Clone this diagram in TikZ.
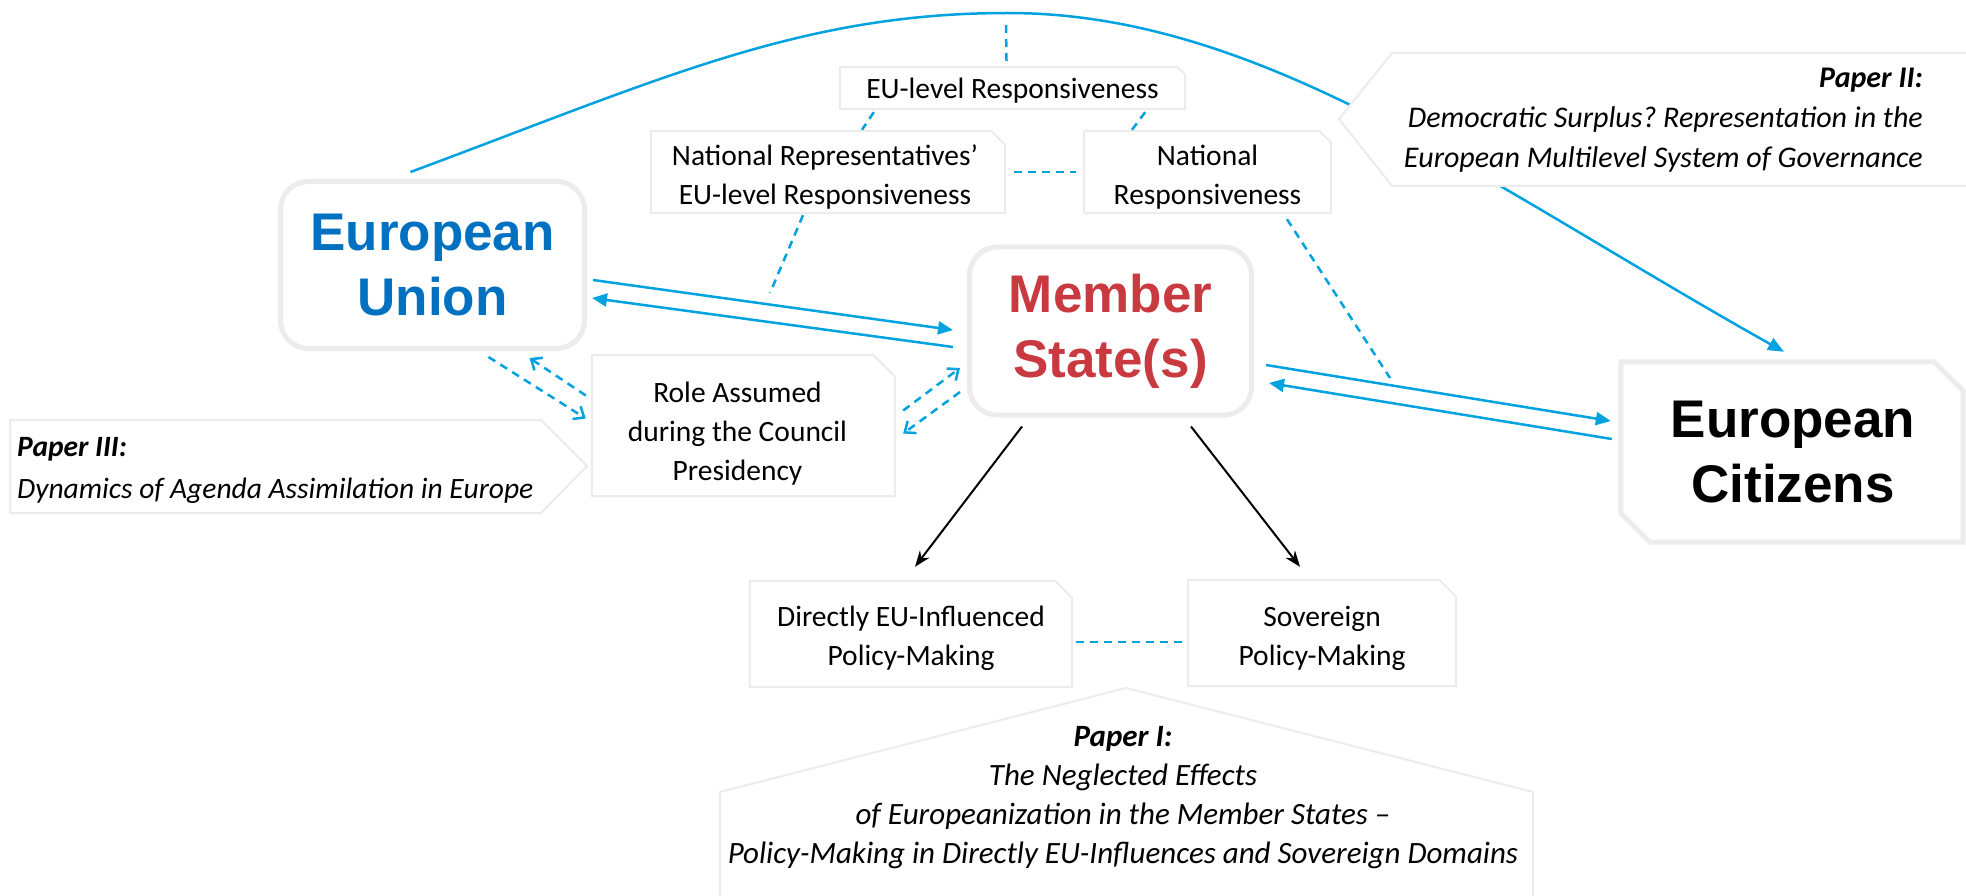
\documentclass[tikz,border=0pt]{standalone}
\usepackage{fontspec}
\setmainfont{Carlito}
\newfontfamily\arialfont{Liberation Sans}
\usetikzlibrary{arrows.meta,calc}
\definecolor{cblue}{RGB}{0,162,224}
\definecolor{eublue}{RGB}{0,112,192}
\definecolor{msred}{RGB}{200,58,64}
\definecolor{edgegray}{RGB}{236,236,236}
\pgfdeclarelayer{bg}
\pgfdeclarelayer{shp}
\pgfsetlayers{bg,shp,main}
\frenchspacing
\newcommand\snipbox[2]{\draw[smallshape] (#1.south west) -- (#1.north west) -- ($(#1.north east)+(-#2,0)$) -- ($(#1.north east)+(0,#2)$) -- (#1.south east) -- cycle;}
\begin{document}
\begin{tikzpicture}[x=1pt,y=-1pt,
  bigbox/.style={draw=edgegray, line width=5pt, fill=white, rounded corners=28pt, font=\arialfont\bfseries\fontsize{53}{65}\selectfont, align=center, inner sep=0pt},
  boxarea/.style={draw=none, inner sep=0pt},
  txt/.style={inner sep=0pt, align=center, font=\fontsize{29.5}{39}\selectfont},
  smallshape/.style={draw=edgegray, line width=2pt, fill=white},
  calloutshape/.style={draw=edgegray, line width=2pt, fill=white},
  solidarrow/.style={cblue, line width=2.5pt, -{Triangle[length=15pt,width=13pt]}},
  dashline/.style={cblue, line width=2.5pt, dash pattern=on 8pt off 6pt},
  dasharrow/.style={dashline, -{Straight Barb[length=9pt,width=15pt]}},
  blackarrow/.style={black, line width=2pt, -{Stealth[length=16pt,width=12pt]}}
]
\useasboundingbox (0,0) rectangle (1966,896);

% main nodes
\node[bigbox, minimum width=304pt, minimum height=167pt, text=eublue] (eu) at (432.5,265) {European\\Union};
\node[bigbox, minimum width=282pt, minimum height=168pt, text=msred] (ms) at (1110.5,331) {Member\\State(s)};
\node[boxarea, minimum width=342pt, minimum height=180pt] (cit) at (1792,452) {};
\node[txt, font=\arialfont\bfseries\fontsize{53}{65}\selectfont] (cit-t) at ($(cit)+(1,0)$) {European\\Citizens};

% small boxes (outline areas) and their texts
\node[boxarea, minimum width=345pt, minimum height=42pt] (eul) at (1012.5,88) {};
\node[txt] (eul-t) at ($(eul)+(0,3)$) {EU-level Responsiveness};
\node[boxarea, minimum width=354pt, minimum height=82pt] (nrep) at (828,172) {};
\node[txt] (nrep-t) at ($(nrep)+(-3,5)$) {National Representatives’\\EU-level Responsiveness};
\node[boxarea, minimum width=247pt, minimum height=82pt] (nresp) at (1207.5,172) {};
\node[txt] (nresp-t) at ($(nresp)+(0,5)$) {National\\Responsiveness};
\node[boxarea, minimum width=303pt, minimum height=141pt] (role) at (743.5,425.5) {};
\node[txt] (role-t) at ($(role)+(-6,8)$) {Role Assumed\\during the Council\\Presidency};
\node[boxarea, minimum width=322pt, minimum height=106pt] (dir) at (911,634) {};
\node[txt] (dir-t) at ($(dir)+(0,4)$) {Directly EU-Influenced\\Policy-Making};
\node[boxarea, minimum width=268pt, minimum height=106pt] (sov) at (1322,633) {};
\node[txt] (sov-t) at ($(sov)+(0,5)$) {Sovereign\\Policy-Making};

% callout texts
\node[txt, align=right, anchor=east, font=\itshape\fontsize{30}{40}\selectfont] (p2) at (1923,120) {\textbf{Paper II:}\\Democratic Surplus? Representation in the\\European Multilevel System of Governance};
\node[txt, align=left, anchor=west, font=\itshape\fontsize{29.5}{42}\selectfont] (p3) at (17,470) {\textbf{Paper III:}\\Dynamics of Agenda Assimilation in Europe};
\node[txt, font=\itshape\fontsize{31}{39}\selectfont] (p1) at (1123,798) {\textbf{Paper I:}\\The Neglected Effects\\of Europeanization in the Member States –\\Policy-Making in Directly EU-Influences and Sovereign Domains};

\coordinate (peak) at (1008,13);
\coordinate (nrepend) at (770,293);
\coordinate (nrespend) at (1390,378);

\begin{pgfonlayer}{bg}
  \fill[white] (0,0) rectangle (1966,896);
  \draw[cblue, line width=2.5pt, -{Triangle[length=16pt,width=13pt]}]
    ($(eu.north)+(-22,-7)$) .. controls (661,79) and (800,13) .. (peak)
    .. controls (1262,13) and (1483,183) .. ($(cit.north)+(-8,-10)$);
\end{pgfonlayer}

\begin{pgfonlayer}{shp}
  \snipbox{eul}{8}
  \snipbox{nrep}{14}
  \snipbox{nresp}{12}
  \snipbox{role}{22}
  \snipbox{dir}{17}
  \snipbox{sov}{17}
  \draw[smallshape, line width=5pt] (cit.north west) -- ($(cit.north east)+(-29,0)$) -- ($(cit.north east)+(0,29)$) -- (cit.south east) -- ($(cit.south west)+(29,0)$) -- ($(cit.south west)+(0,-29)$) -- cycle;
  \draw[calloutshape] (1339,119) -- (1392,53) -- (1975,53) -- (1975,186) -- (1392,186) -- cycle;
  \draw[calloutshape] (10,420) -- (541,420) -- (587,466) -- (541,513) -- (10,513) -- cycle;
  \draw[calloutshape] (1126,688) -- (1533,792) -- (1533,905) -- (720,905) -- (720,792) -- cycle;
\end{pgfonlayer}

% dashed connectors
\draw[dashline] ($(peak)+(-2,12)$) -- ($(eul.north)+(-6,-6)$);
\draw[dashline] ($(eul.south west)+(34,3)$) -- ($(nrep.north)+(34,-1)$);
\draw[dashline] ($(eul.south east)+(-40,3)$) -- ($(nresp.north)+(-75.5,-1)$);
\draw[dashline] ($(nrep.east)+(9,0)$) -- ($(nresp.west)+(-8,0)$);
\draw[dashline] ($(nrep.south)+(-25,2)$) -- (nrepend);
\draw[dashline] ($(nresp.south)+(79.5,6)$) -- (nrespend);
\draw[dashline] ($(dir.east)+(4,8)$) -- ($(sov.west)+(-6,9)$);

% solid blue arrows
\draw[solidarrow] ($(eu.east)+(6,15)$) -- ($(ms.west)+(-14,-1)$);
\draw[solidarrow] ($(ms.west)+(-14,16)$) -- ($(eu.east)+(5,33)$);
\draw[solidarrow] ($(ms.east)+(12,34)$) -- ($(cit.west)+(-10,-31)$);
\draw[solidarrow] ($(cit.west)+(-9,-13)$) -- ($(ms.east)+(15,52)$);

% dashed arrows
\draw[dasharrow] ($(eu.south)+(56,6)$) -- ($(role.west)+(-6,-7)$);
\draw[dasharrow] ($(role.west)+(-6,-30)$) -- ($(eu.south)+(97,7)$);
\draw[dasharrow] ($(role.east)+(8,-15)$) -- ($(ms.west)+(-7,37)$);
\draw[dasharrow] ($(ms.west)+(-7,61)$) -- ($(role.east)+(8,8)$);

% black arrows
\draw[blackarrow] ($(ms.south)+(-88.5,9)$) -- ($(dir.north)+(4,-14)$);
\draw[blackarrow] ($(ms.south)+(80.5,9)$) -- ($(sov.north)+(-22,-13)$);
\end{tikzpicture}
\end{document}
